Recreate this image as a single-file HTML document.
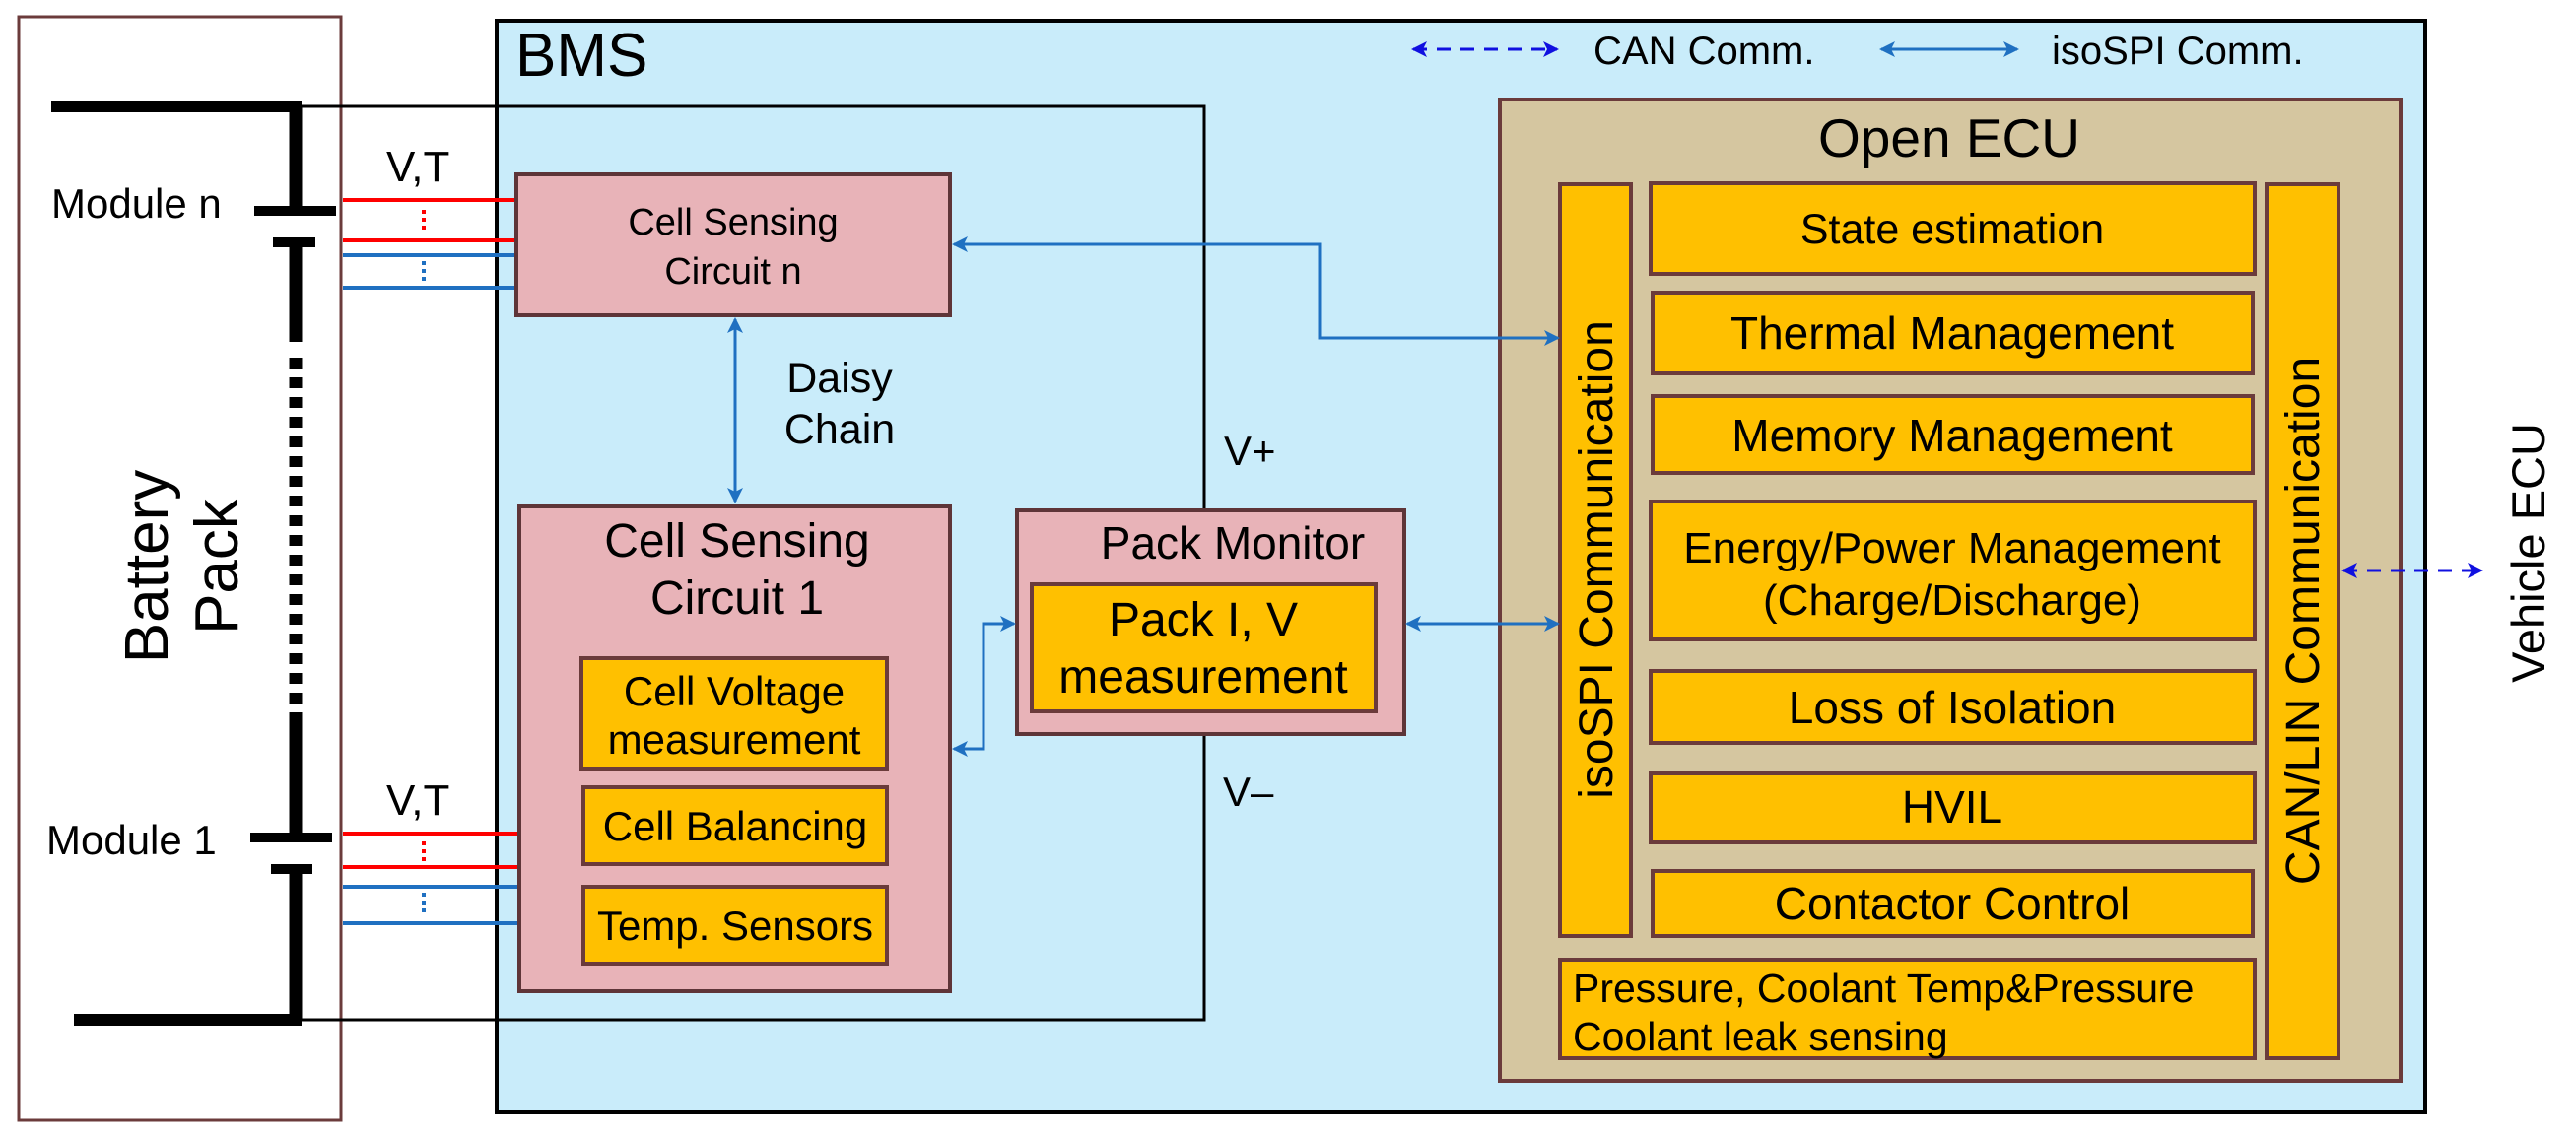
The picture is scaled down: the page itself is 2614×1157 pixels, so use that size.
<!DOCTYPE html>
<html><head><meta charset="utf-8"><style>
html,body{margin:0;padding:0;background:#fff;}
svg{display:block;font-family:"Liberation Sans",Arial,sans-serif;}
</style></head><body>
<svg width="2614" height="1157" viewBox="0 0 2614 1157" xmlns="http://www.w3.org/2000/svg">
<defs>
<marker id="ad" markerWidth="20" markerHeight="20" refX="14" refY="8" orient="auto-start-reverse" markerUnits="userSpaceOnUse">
<path d="M0,0 L16,8 L0,16 L4,8 Z" fill="#1010e0"/>
</marker>
<marker id="abl" markerWidth="20" markerHeight="20" refX="14" refY="8" orient="auto-start-reverse" markerUnits="userSpaceOnUse">
<path d="M0,0 L16,8 L0,16 L4,8 Z" fill="#1f70c1"/>
</marker>
</defs>

<!-- Battery pack box -->
<rect x="19" y="17" width="327" height="1120" fill="#fff" stroke="#6b3b3b" stroke-width="3"/>
<!-- BMS -->
<rect x="504" y="21" width="1957" height="1108" fill="#c9ecfa" stroke="#000" stroke-width="4"/>
<text x="523" y="77" font-size="62">BMS</text>

<!-- thin loop -->
<polyline points="300,108 1222,108 1222,1035 300,1035" fill="none" stroke="#000" stroke-width="3"/>
<!-- battery thick lines -->
<g stroke="#000" fill="none">
<line x1="52" y1="108" x2="306" y2="108" stroke-width="12"/>
<line x1="300" y1="108" x2="300" y2="214" stroke-width="13"/>
<line x1="258" y1="214" x2="341" y2="214" stroke-width="10"/>
<line x1="277" y1="246" x2="320" y2="246" stroke-width="10"/>
<line x1="300" y1="246" x2="300" y2="347" stroke-width="13"/>
<line x1="300" y1="363" x2="300" y2="734" stroke-width="13" stroke-dasharray="11,9"/>
<line x1="300" y1="734" x2="300" y2="850" stroke-width="13"/>
<line x1="254" y1="850" x2="337" y2="850" stroke-width="10"/>
<line x1="275" y1="882" x2="317" y2="882" stroke-width="10"/>
<line x1="300" y1="882" x2="300" y2="1035" stroke-width="13"/>
<line x1="75" y1="1035" x2="306" y2="1035" stroke-width="12"/>
</g>
<text x="52" y="221" font-size="42">Module n</text>
<text x="47" y="867" font-size="42">Module 1</text>
<g transform="translate(150,575) rotate(-90)"><text x="0" y="20" font-size="62" text-anchor="middle">Battery</text></g>
<g transform="translate(221,575) rotate(-90)"><text x="0" y="20" font-size="62" text-anchor="middle">Pack</text></g>

<!-- wires -->
<g stroke-width="4">
<line x1="348" y1="203" x2="524" y2="203" stroke="#f00"/>
<line x1="348" y1="244" x2="524" y2="244" stroke="#f00"/>
<line x1="348" y1="259" x2="524" y2="259" stroke="#1f70c1"/>
<line x1="348" y1="292" x2="524" y2="292" stroke="#1f70c1"/>
<line x1="430" y1="213" x2="430" y2="236" stroke="#f00" stroke-dasharray="4,4"/>
<line x1="430" y1="265" x2="430" y2="288" stroke="#1f70c1" stroke-dasharray="4,4"/>
<line x1="348" y1="846" x2="527" y2="846" stroke="#f00"/>
<line x1="348" y1="880" x2="527" y2="880" stroke="#f00"/>
<line x1="348" y1="900" x2="527" y2="900" stroke="#1f70c1"/>
<line x1="348" y1="937" x2="527" y2="937" stroke="#1f70c1"/>
<line x1="430" y1="854" x2="430" y2="875" stroke="#f00" stroke-dasharray="4,4"/>
<line x1="430" y1="906" x2="430" y2="930" stroke="#1f70c1" stroke-dasharray="4,4"/>
</g>
<text x="392" y="184" font-size="44">V,T</text>
<text x="392" y="827" font-size="44">V,T</text>

<!-- Cell sensing n -->
<rect x="524" y="177" width="440" height="143" fill="#e8b3b8" stroke="#5e3538" stroke-width="4"/>
<text x="744" y="238" font-size="38" text-anchor="middle">Cell Sensing</text>
<text x="744" y="288" font-size="38" text-anchor="middle">Circuit n</text>

<!-- daisy -->
<line x1="746" y1="324" x2="746" y2="509" stroke="#1f70c1" stroke-width="3" marker-start="url(#abl)" marker-end="url(#abl)"/>
<text x="852" y="398" font-size="43" text-anchor="middle">Daisy</text>
<text x="852" y="450" font-size="43" text-anchor="middle">Chain</text>

<!-- Cell sensing 1 -->
<rect x="527" y="514" width="437" height="492" fill="#e8b3b8" stroke="#5e3538" stroke-width="4"/>
<text x="748" y="565" font-size="48" text-anchor="middle">Cell Sensing</text>
<text x="748" y="623" font-size="48" text-anchor="middle">Circuit 1</text>
<rect x="590" y="668" width="310" height="112" fill="#ffc000" stroke="#6b3b3b" stroke-width="4"/>
<text x="745" y="716" font-size="42" text-anchor="middle">Cell Voltage</text>
<text x="745" y="765" font-size="42" text-anchor="middle">measurement</text>
<rect x="592" y="799" width="308" height="78" fill="#ffc000" stroke="#6b3b3b" stroke-width="4"/>
<text x="746" y="853" font-size="42" text-anchor="middle">Cell Balancing</text>
<rect x="592" y="900" width="308" height="78" fill="#ffc000" stroke="#6b3b3b" stroke-width="4"/>
<text x="746" y="954" font-size="42" text-anchor="middle">Temp. Sensors</text>

<!-- Pack monitor -->
<rect x="1032" y="518" width="393" height="227" fill="#e8b3b8" stroke="#5e3538" stroke-width="4"/>
<text x="1251" y="567" font-size="46" text-anchor="middle">Pack Monitor</text>
<rect x="1047" y="593" width="349" height="129" fill="#ffc000" stroke="#6b3b3b" stroke-width="4"/>
<text x="1221" y="645" font-size="48" text-anchor="middle">Pack I, V</text>
<text x="1221" y="703" font-size="48" text-anchor="middle">measurement</text>
<text x="1242" y="472" font-size="42">V+</text>
<text x="1241" y="818" font-size="42">V–</text>

<!-- legend -->
<line x1="1434" y1="50" x2="1580" y2="50" stroke="#1010e0" stroke-width="3" stroke-dasharray="14,10" marker-start="url(#ad)" marker-end="url(#ad)"/>
<text x="1617" y="65" font-size="40">CAN Comm.</text>
<line x1="1909" y1="50" x2="2047" y2="50" stroke="#1f70c1" stroke-width="3" marker-start="url(#abl)" marker-end="url(#abl)"/>
<text x="2082" y="65" font-size="40">isoSPI Comm.</text>

<!-- Open ECU -->
<rect x="1522" y="101" width="914" height="996" fill="#d5c6a0" stroke="#6b3b3b" stroke-width="4"/>
<text x="1978" y="159" font-size="55" text-anchor="middle">Open ECU</text>
<rect x="1583" y="187" width="72" height="763" fill="#ffc000" stroke="#6b3b3b" stroke-width="4"/>
<g transform="translate(1619,568) rotate(-90)"><text x="0" y="17" font-size="48" text-anchor="middle">isoSPI Communication</text></g>
<rect x="2300" y="187" width="73" height="887" fill="#ffc000" stroke="#6b3b3b" stroke-width="4"/>
<g transform="translate(2336,630) rotate(-90)"><text x="0" y="17" font-size="48" text-anchor="middle">CAN/LIN Communication</text></g>

<g fill="#ffc000" stroke="#6b3b3b" stroke-width="4">
<rect x="1675" y="186" width="613" height="92"/>
<rect x="1677" y="297" width="609" height="82"/>
<rect x="1677" y="402" width="609" height="78"/>
<rect x="1675" y="509" width="613" height="140"/>
<rect x="1675" y="681" width="613" height="73"/>
<rect x="1675" y="785" width="613" height="70"/>
<rect x="1677" y="884" width="609" height="66"/>
<rect x="1583" y="974" width="705" height="100"/>
</g>
<g font-size="46" text-anchor="middle">
<text x="1981" y="247" font-size="43">State estimation</text>
<text x="1981" y="354">Thermal Management</text>
<text x="1981" y="458">Memory Management</text>
<text x="1981" y="571" font-size="44">Energy/Power Management</text>
<text x="1981" y="624" font-size="44">(Charge/Discharge)</text>
<text x="1981" y="734">Loss of Isolation</text>
<text x="1981" y="835">HVIL</text>
<text x="1981" y="933">Contactor Control</text>
</g>
<text x="1596" y="1017" font-size="41">Pressure, Coolant Temp&amp;Pressure</text>
<text x="1596" y="1066" font-size="41">Coolant leak sensing</text>

<!-- connectors (drawn on top) -->
<polyline points="968,760 998,760 998,633 1029,633" fill="none" stroke="#1f70c1" stroke-width="3" marker-start="url(#abl)" marker-end="url(#abl)"/>
<line x1="1428" y1="633" x2="1581" y2="633" stroke="#1f70c1" stroke-width="3" marker-start="url(#abl)" marker-end="url(#abl)"/>
<polyline points="968,248 1339,248 1339,343 1581,343" fill="none" stroke="#1f70c1" stroke-width="3" marker-start="url(#abl)" marker-end="url(#abl)"/>

<!-- vehicle ECU -->
<line x1="2378" y1="579" x2="2518" y2="579" stroke="#1010e0" stroke-width="3" stroke-dasharray="14,10" marker-start="url(#ad)" marker-end="url(#ad)"/>
<g transform="translate(2565,561) rotate(-90)"><text x="0" y="17" font-size="47" text-anchor="middle">Vehicle ECU</text></g>
</svg>
</body></html>
